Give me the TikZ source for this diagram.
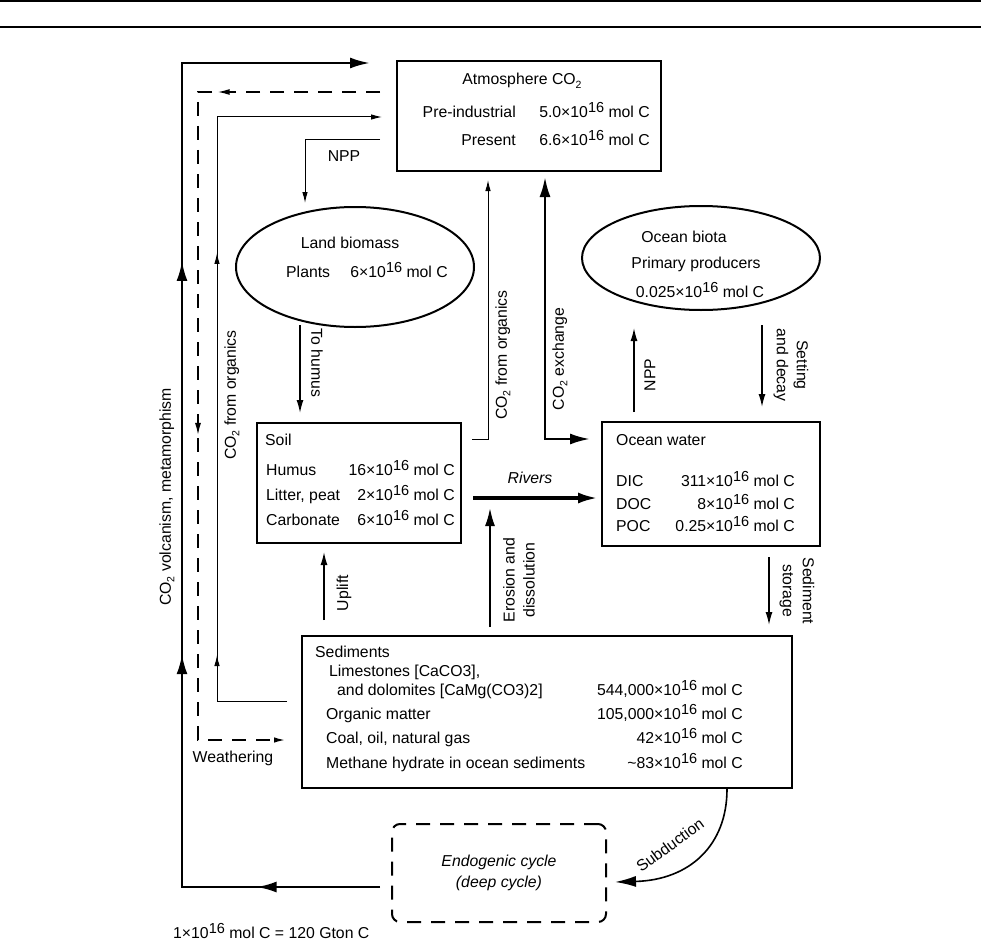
\documentclass[tikz,border=0pt]{standalone}
\usepackage{fontspec}
\setmainfont{Liberation Sans}
\usetikzlibrary{arrows.meta,%
  positioning,%
  shapes.geometric,%
  decorations.markings}

\newcommand\supx[1]{\raisebox{5pt}{\fontsize{14.5}{14.5}\selectfont #1}}
\newcommand\subx[1]{\raisebox{-3.5pt}{\fontsize{10.5}{10.5}\selectfont #1}}

\begin{document}
\begin{tikzpicture}[x=1pt,y=-1pt,
    font=\fontsize{15.8}{20}\selectfont,
    every node/.append style={inner sep=0pt},
    box/.style={draw,rectangle,line width=2.2pt},
    blob/.style={draw,ellipse,line width=2pt},
    endobox/.style={draw,rectangle,rounded corners=8pt,line width=2pt,
      dash pattern=on 14pt off 10pt,align=center,
      font=\fontsize{15.8}{21}\selectfont\itshape},
    thinln/.style={line width=1pt},
    midln/.style={line width=1.4pt},
    fatln/.style={line width=2.5pt},
    tipS/.style={-{Latex[length=11pt,width=5.5pt]}},
    tipM/.style={-{Latex[length=13pt,width=7pt]}},
    tipL/.style={-{Latex[length=20pt,width=11pt]}},
    lbl/.style={anchor=base west},
    val/.style={anchor=base east}]

\useasboundingbox (0,0) rectangle (981,944);
\draw [line width=1.5pt] (0,1) -- (981,1);
\draw [line width=1.5pt] (0,27) -- (981,27);

% reservoirs
\node [box,minimum width=264pt,minimum height=110pt] (atm) at (529,116) {};
\node [blob,minimum width=238pt,minimum height=120pt] (land) at (355,267) {};
\node [blob,minimum width=238pt,minimum height=104pt] (biota) at (701,258) {};
\node [box,minimum width=204pt,minimum height=120pt] (soil) at (359,483) {};
\node [box,minimum width=218pt,minimum height=124pt,line width=2pt] (ocean) at (711,484) {};
\node [box,minimum width=490pt,minimum height=152pt] (sed) at (547,712) {};
\node [endobox,minimum width=214pt,minimum height=98pt] (endo) at (499,873) {Endogenic cycle\\(deep cycle)};

% texts in the reservoirs
\node [anchor=base] (atmT) at (522,85) {Atmosphere CO\subx{2}};
\node [val] (atmPre) at (516,118) {Pre-industrial};
\node [val] (atmPreV) at (650,118) {5.0×10\supx{16} mol C};
\node [val] (atmNow) at (516,146) {Present};
\node [val] (atmNowV) at (650,146) {6.6×10\supx{16} mol C};

\node [anchor=base] (landT) at (350,248) {Land biomass};
\node [lbl] (landP) at (286,277) {Plants};
\node [val] (landPV) at (448,277) {6×10\supx{16} mol C};

\node [anchor=base] (biotaT) at (684,242) {Ocean biota};
\node [anchor=base] (biotaP) at (696,268) {Primary producers};
\node [anchor=base] (biotaV) at (700,297) {0.025×10\supx{16} mol C};

\node [lbl] (soilT) at (265,445) {Soil};
\node [lbl] (soilH) at (266,475) {Humus};
\node [val] (soilHV) at (455,475) {16×10\supx{16} mol C};
\node [lbl] (soilL) at (266,500) {Litter, peat};
\node [val] (soilLV) at (455,500) {2×10\supx{16} mol C};
\node [lbl] (soilC) at (266,525) {Carbonate};
\node [val] (soilCV) at (455,525) {6×10\supx{16} mol C};

\node [lbl] (oceanT) at (616,445) {Ocean water};
\node [lbl] (oceanD) at (616,486) {DIC};
\node [val] (oceanDV) at (795,486) {311×10\supx{16} mol C};
\node [lbl] (oceanO) at (616,509) {DOC};
\node [val] (oceanOV) at (795,509) {8×10\supx{16} mol C};
\node [lbl] (oceanP) at (616,531) {POC};
\node [val] (oceanPV) at (795,531) {0.25×10\supx{16} mol C};

\node [lbl] (sedT) at (315,657) {Sediments};
\node [lbl] (sedLime) at (329,676) {Limestones [CaCO3],};
\node [lbl] (sedDolo) at (337,695) {and dolomites [CaMg(CO3)2]};
\node [val] (sedDoloV) at (743,695) {544,000×10\supx{16} mol C};
\node [lbl] (sedOrg) at (326,719) {Organic matter};
\node [val] (sedOrgV) at (743,719) {105,000×10\supx{16} mol C};
\node [lbl] (sedCoal) at (326,743) {Coal, oil, natural gas};
\node [val] (sedCoalV) at (743,743) {42×10\supx{16} mol C};
\node [lbl] (sedMeth) at (326,768) {Methane hydrate in ocean sediments};
\node [val] (sedMethV) at (743,768) {\textasciitilde 83×10\supx{16} mol C};

% ends of the connectors
\coordinate (volA) at (380,887);
\coordinate (volB) at (182,887);
\coordinate (volC) at (182,63);
\coordinate (volD) at (370,63);
\coordinate (wthA) at (380,92);
\coordinate (wthB) at (198,92);
\coordinate (wthC) at (198,740);
\coordinate (wthD) at (285,740);
\coordinate (orgA) at (287,701);
\coordinate (orgB) at (217,701);
\coordinate (orgC) at (217,117);
\coordinate (orgD) at (382,117);
\coordinate (nppA) at (380,140);
\coordinate (nppB) at (305,203);
\coordinate (humA) at (300,325);
\coordinate (humB) at (300,413);
\coordinate (orgmA) at (472,439);
\coordinate (orgmB) at (488,180);
\coordinate (exA) at (545,177);
\coordinate (exB) at (590,439);
\coordinate (onppA) at (634,412);
\coordinate (onppB) at (634,328);
\coordinate (setA) at (762,325);
\coordinate (setB) at (762,407);
\coordinate (rivA) at (473,498);
\coordinate (rivB) at (598,498);
\coordinate (eroA) at (490,627);
\coordinate (eroB) at (490,508);
\coordinate (uplA) at (324,620);
\coordinate (uplB) at (324,552);
\coordinate (stoA) at (769,557);
\coordinate (stoB) at (769,625);
\coordinate (subA) at (sed.south -| 727,0);
\coordinate (subB) at (615,882);

% long loops on the left
\draw [fatln,tipL,postaction=decorate,decoration={markings,
    mark=at position 0.102 with {\arrow{Latex[length=20pt,width=11pt]}},
    mark=at position 0.356 with {\arrow{Latex[length=20pt,width=11pt]}},
    mark=at position 0.681 with {\arrow{Latex[length=20pt,width=11pt]}}}]
  (volA) -- (volB) -- (volC) -- (volD);
\draw [midln,dash pattern=on 14pt off 10pt,tipS,postaction=decorate,decoration={markings,
    mark=at position 0.177 with {\arrow{Latex[length=12pt,width=6pt]}},
    mark=at position 0.5725 with {\arrow{Latex[length=12pt,width=6pt]}}}]
  (wthA) -- (wthB) -- (wthC) -- (wthD);
\draw [thinln,tipS,postaction=decorate,decoration={markings,
    mark=at position 0.1416 with {\arrow{Latex[length=11pt,width=5.5pt]}},
    mark=at position 0.6325 with {\arrow{Latex[length=11pt,width=5.5pt]}}}]
  (orgA) -- (orgB) -- (orgC) -- (orgD);

% fluxes
\draw [thinln,tipS] (nppA) -| (nppB);
\draw [midln,tipM] (humA) -- (humB);
\draw [thinln,tipS] (orgmA) -| (orgmB);
\draw [fatln,{Latex[length=20pt,width=11pt]}-{Latex[length=20pt,width=11pt]}] (exA) |- (exB);
\draw [midln,tipM] (onppA) -- (onppB);
\draw [midln,tipM] (setA) -- (setB);
\draw [line width=3.5pt,tipL] (rivA) -- (rivB);
\draw [line width=2pt,-{Latex[length=18pt,width=10pt]}] (eroA) -- (eroB);
\draw [midln,tipM] (uplA) -- (uplB);
\draw [midln,tipM] (stoA) -- (stoB);
\draw [line width=1.6pt,-{Latex[length=21pt,width=11pt]}] (subA) .. controls (727,845) and (690,880) .. (subB);

% flux labels
\node [rotate=90] (volLbl) at (167,497) {CO\subx{2} volcanism, metamorphism};
\node [rotate=90] (orgLbl) at (232,395) {CO\subx{2} from organics};
\node [anchor=base] (wthLbl) at (233,762) {Weathering};
\node [anchor=base] (nppLbl) at (344,161) {NPP};
\node [rotate=-90] (humLbl) at (317,363) {To humus};
\node [rotate=90] (orgmLbl) at (503,355) {CO\subx{2} from organics};
\node [rotate=90] (exLbl) at (560,359) {CO\subx{2} exchange};
\node [rotate=90] (onppLbl) at (650,375) {NPP};
\node [rotate=-90,align=center] (setLbl) at (791,365) {Setting\\and decay};
\node [anchor=base,font=\fontsize{15.8}{20}\selectfont\itshape] (rivLbl) at (530,483) {Rivers};
\node [rotate=90,align=center] (eroLbl) at (519,580) {Erosion and\\dissolution};
\node [rotate=90] (uplLbl) at (344,593) {Uplift};
\node [rotate=-90,align=center] (stoLbl) at (797,591) {Sediment\\storage};
\node [rotate=36] (subLbl) at (670,845) {Subduction};

\node [lbl] (unitNote) at (173,938) {1×10\supx{16} mol C = 120 Gton C};
\end{tikzpicture}
\end{document}
